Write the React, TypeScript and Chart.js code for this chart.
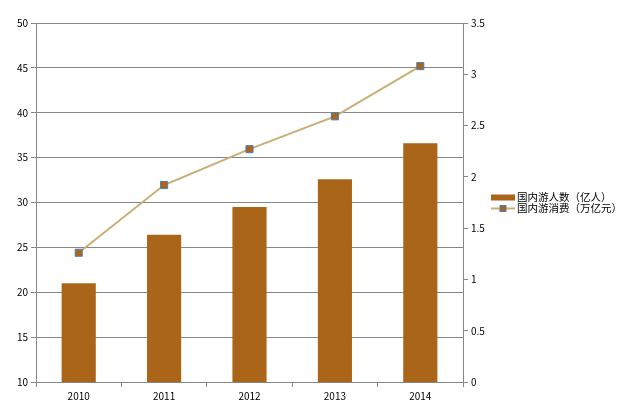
import { useEffect, useRef } from "react"
import { Chart, registerables } from "chart.js"

Chart.register(...registerables)

const years = ["2010", "2011", "2012", "2013", "2014"]
const tourists = [21.0, 26.4, 29.5, 32.6, 36.6]
const spending = [1.26, 1.92, 2.27, 2.59, 3.08]
const legendLabels = ["国内游人数（亿人）", "国内游消费（万亿元）"]

const BAR_COLOR = "#ab6518"
const LINE_COLOR = "#c9ae76"
const MARKER_BORDER = "#4a7ebb"
const AXIS_COLOR = "#868686"
const FONT = '"Noto Sans CJK SC", "DejaVu Sans", sans-serif'

// hand-drawn legend to the right of the right axis, like the Excel original
const sideLegend = {
  id: "sideLegend",
  afterDraw(chart: Chart) {
    const g = chart.ctx
    const x = chart.chartArea.right + 28
    const midY = (chart.chartArea.top + chart.chartArea.bottom) / 2
    const rows = [midY - 5, midY + 6]
    g.save()
    g.font = `10.5px ${FONT}`
    g.textBaseline = "middle"
    // bar entry
    g.fillStyle = BAR_COLOR
    g.fillRect(x, rows[0] - 3, 24, 6)
    // line entry
    g.strokeStyle = LINE_COLOR
    g.lineWidth = 2
    g.beginPath()
    g.moveTo(x, rows[1])
    g.lineTo(x + 24, rows[1])
    g.stroke()
    g.fillStyle = MARKER_BORDER
    g.fillRect(x + 8.5, rows[1] - 3.5, 7, 7)
    g.fillStyle = BAR_COLOR
    g.fillRect(x + 9.5, rows[1] - 2.5, 5, 5)
    g.fillStyle = "#000"
    legendLabels.forEach((t, i) => g.fillText(t, x + 26, rows[i]))
    g.restore()
  },
}

export default function App() {
  const chartRef = useRef<HTMLCanvasElement | null>(null)
  const chartInstance = useRef<Chart | null>(null)

  useEffect(() => {
    if (!chartRef.current) return
    if (chartInstance.current) chartInstance.current.destroy()
    const ctx = chartRef.current.getContext("2d")
    if (!ctx) return

    chartInstance.current = new Chart(ctx, {
      type: "bar",
      data: {
        labels: years,
        datasets: [
          {
            type: "bar",
            label: legendLabels[0],
            data: tourists,
            backgroundColor: BAR_COLOR,
            barPercentage: 0.4,
            categoryPercentage: 1,
            yAxisID: "y",
            order: 2,
          },
          {
            type: "line",
            label: legendLabels[1],
            data: spending,
            borderColor: LINE_COLOR,
            borderWidth: 2,
            tension: 0,
            pointStyle: "rect",
            pointRadius: 5,
            pointBackgroundColor: BAR_COLOR,
            pointBorderColor: MARKER_BORDER,
            pointBorderWidth: 1,
            yAxisID: "y1",
            order: 1,
          },
        ],
      },
      options: {
        responsive: true,
        maintainAspectRatio: false,
        animation: false,
        layout: { padding: { top: 23, left: 0, right: 151, bottom: 12 } },
        scales: {
          x: {
            grid: {
              offset: true,
              drawOnChartArea: false,
              drawTicks: true,
              tickLength: 5,
              color: AXIS_COLOR,
            },
            border: { color: AXIS_COLOR },
            ticks: { color: "#000", font: { family: FONT, size: 10 }, padding: 3 },
          },
          y: {
            position: "left",
            min: 10,
            max: 50,
            ticks: { stepSize: 5, color: "#000", font: { family: FONT, size: 10 }, padding: 3 },
            grid: { color: AXIS_COLOR, tickLength: 5 },
            border: { color: AXIS_COLOR },
            afterFit: (s: any) => {
              s.width = 36
            },
          },
          y1: {
            position: "right",
            min: 0,
            max: 3.5,
            ticks: {
              stepSize: 0.5,
              color: "#000",
              font: { family: FONT, size: 10 },
              padding: 3,
              callback: (v: any) => String(Math.round(Number(v) * 10) / 10),
            },
            grid: { drawOnChartArea: false, color: AXIS_COLOR, tickLength: 5 },
            border: { color: AXIS_COLOR },
            afterFit: (s: any) => {
              s.width = 26
            },
          },
        },
        plugins: {
          tooltip: { enabled: false },
          legend: { display: false },
        },
      },
      plugins: [sideLegend],
    })

    return () => {
      if (chartInstance.current) {
        chartInstance.current.destroy()
        chartInstance.current = null
      }
    }
  }, [])

  return (
    <div style={{ position: "fixed", left: 0, top: 0, width: 640, height: 417, background: "#fff" }}>
      <canvas ref={chartRef} />
    </div>
  )
}
